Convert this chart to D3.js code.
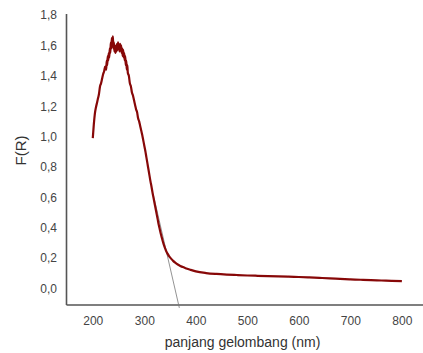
<!DOCTYPE html>
<html>
<head>
<meta charset="utf-8">
<script src="https://cdn.jsdelivr.net/npm/d3@7"></script>
<style>
  html, body { margin: 0; padding: 0; background: #fff; }
  svg { display: block; font-family: "Liberation Sans", Arial, sans-serif; }
</style>
</head>
<body>
<div id="chart"></div>
<script>
// wavelength (nm) and F(R) values
const wavelength = [
  200, 202, 204, 206, 208, 210, 212, 214, 216, 218, 220, 222, 224, 226, 227, 228, 229,
  230, 231, 232, 233, 234, 235, 236, 237, 238, 239, 240, 241, 242, 243, 244, 245, 246,
  247, 248, 249, 250, 251, 252, 253, 254, 255, 256, 257, 258, 259, 260, 261, 262, 263,
  264, 265, 266, 267, 268, 270, 272, 274, 276, 278, 280, 282, 284, 286, 288, 290, 292,
  294, 296, 298, 300, 302, 304, 306, 308, 310, 312, 314, 316, 318, 320, 322, 324, 326,
  328, 330, 332, 334, 336, 338, 340, 342, 345, 348, 352, 356, 360, 365, 370, 375, 380,
  390, 400, 420, 440, 460, 480, 500, 520, 540, 560, 580, 600, 620, 640, 660, 680, 700,
  720, 740, 760, 780, 800
];
const fr = [
  0.99, 1.08, 1.15, 1.19, 1.22, 1.25, 1.28, 1.33, 1.35, 1.38, 1.41, 1.43, 1.46, 1.44, 1.50, 1.47, 1.53,
  1.50, 1.55, 1.52, 1.58, 1.55, 1.62, 1.58, 1.65, 1.60, 1.66, 1.58, 1.62, 1.56, 1.60, 1.55, 1.59, 1.56,
  1.61, 1.57, 1.62, 1.58, 1.60, 1.56, 1.61, 1.57, 1.60, 1.55, 1.58, 1.53, 1.57, 1.52, 1.55, 1.50, 1.53,
  1.47, 1.50, 1.44, 1.47, 1.42, 1.40, 1.35, 1.33, 1.29, 1.27, 1.24, 1.21, 1.18, 1.16, 1.12, 1.10, 1.07,
  1.04, 1.01, 0.975, 0.94, 0.905, 0.865, 0.825, 0.785, 0.745, 0.705, 0.67, 0.63, 0.595, 0.56, 0.525, 0.49, 0.455,
  0.42, 0.39, 0.36, 0.335, 0.31, 0.287, 0.267, 0.25, 0.23, 0.214, 0.197, 0.182, 0.17, 0.158, 0.149, 0.141, 0.134,
  0.123, 0.113, 0.102, 0.096, 0.092, 0.089, 0.086, 0.084, 0.082, 0.080, 0.078, 0.076, 0.073, 0.070, 0.067, 0.063, 0.060,
  0.058, 0.056, 0.053, 0.051, 0.049
];

// tangent line used for the band-gap extrapolation
const tangentX = [318, 368];
const tangentY = [0.61, -0.127];

const xTicks = [200, 300, 400, 500, 600, 700, 800];
const yTicks = [0, 0.2, 0.4, 0.6, 0.8, 1.0, 1.2, 1.4, 1.6, 1.8];

const width = 423;
const height = 353;

const svg = d3.select('#chart').append('svg')
  .attr('width', width)
  .attr('height', height);

const x = d3.scaleLinear().domain([148, 841]).range([66, 423]);
const y = d3.scaleLinear().domain([-0.105, 1.81]).range([304.5, 13.5]);

const fmt = d3.formatLocale({ decimal: ',', thousands: '.', grouping: [3], currency: ['', ''] }).format('.1f');

// axes
const xAxis = svg.append('g')
  .attr('transform', `translate(0,${y(-0.105)})`)
  .call(d3.axisBottom(x).tickValues(xTicks).tickSize(0).tickPadding(11.5));

const yAxis = svg.append('g')
  .attr('transform', `translate(${x(148)},0)`)
  .call(d3.axisLeft(y).tickValues(yTicks).tickSize(0).tickPadding(9).tickFormat(fmt));

[xAxis, yAxis].forEach(a => {
  a.select('.domain').attr('stroke', '#555').attr('stroke-width', 1.6);
  a.selectAll('text')
    .attr('font-size', '12px')
    .attr('font-family', '"Liberation Sans", Arial, sans-serif')
    .attr('fill', '#444');
});

// tangent
svg.append('line')
  .attr('x1', x(tangentX[0])).attr('y1', y(tangentY[0]))
  .attr('x2', x(tangentX[1])).attr('y2', y(tangentY[1]))
  .attr('stroke', '#777')
  .attr('stroke-width', 0.8);

// spectrum
const points = wavelength.map((w, i) => [w, fr[i]]);
const line = d3.line()
  .x(d => x(d[0]))
  .y(d => y(d[1]))
  .curve(d3.curveMonotoneX);

svg.append('path')
  .datum(points)
  .attr('fill', 'none')
  .attr('stroke', '#870808')
  .attr('stroke-width', 2.2)
  .attr('stroke-linejoin', 'round')
  .attr('d', line);

// titles
svg.append('text')
  .attr('x', 242.5)
  .attr('y', 347)
  .attr('text-anchor', 'middle')
  .attr('font-size', '14px')
  .attr('fill', '#333')
  .text('panjang gelombang (nm)');

svg.append('text')
  .attr('transform', 'translate(26,150.5) rotate(-90)')
  .attr('text-anchor', 'middle')
  .attr('font-size', '15px')
  .attr('fill', '#333')
  .text('F(R)');
</script>
</body>
</html>
